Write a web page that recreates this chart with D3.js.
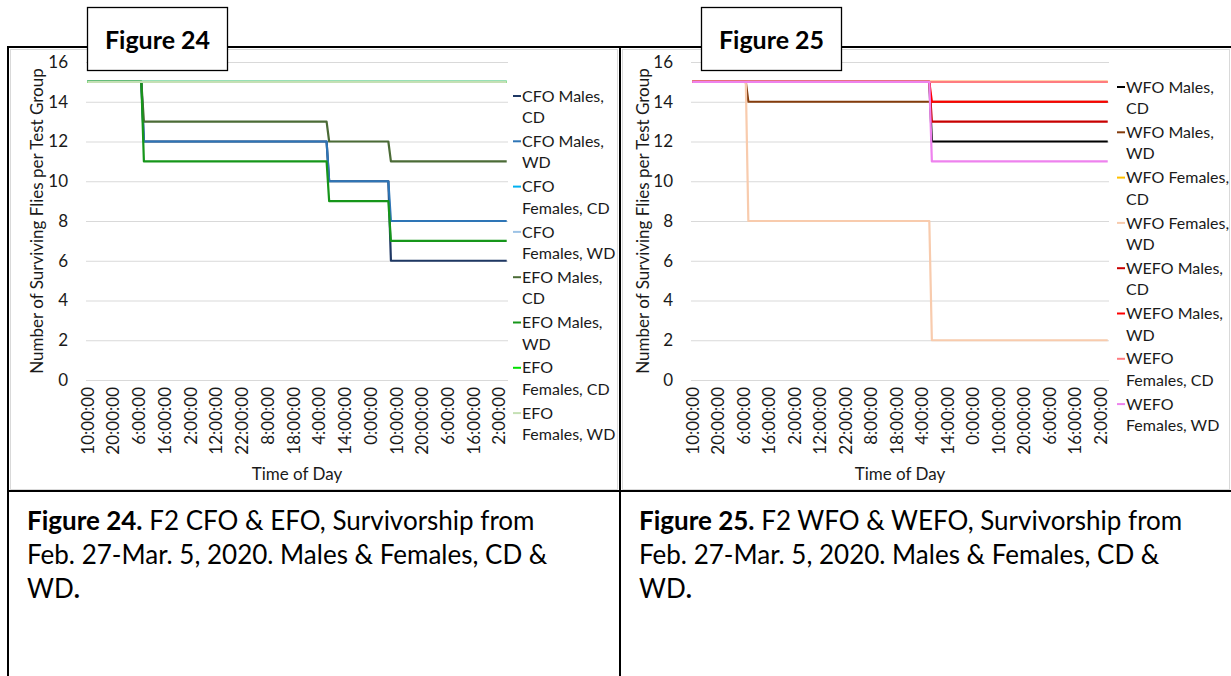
<!DOCTYPE html>
<html>
<head>
<meta charset="utf-8">
<script src="https://cdn.jsdelivr.net/npm/d3@7"></script>
<style>
  body { margin: 0; background: #fff; }
  svg { display: block; font-family: Lato, "Open Sans", sans-serif; }
</style>
</head>
<body>
<svg width="1231" height="676"></svg>
<script>
// x axis: hourly categories, a label every 10th hour
const hourCount = 164;
const labelHours = [0, 10, 20, 30, 40, 50, 60, 70, 80, 90, 100, 110, 120, 130, 140, 150, 160];
const timeLabels = ['10:00:00', '20:00:00', '6:00:00', '16:00:00', '2:00:00', '12:00:00', '22:00:00', '8:00:00',
  '18:00:00', '4:00:00', '14:00:00', '0:00:00', '10:00:00', '20:00:00', '6:00:00', '16:00:00', '2:00:00'];
const yTicks = [0, 2, 4, 6, 8, 10, 12, 14, 16];

// hour index of each survival check
const checkHours = [0, 22, 94, 118];

// Figure 24 — surviving flies at each check
const fig24Names = ['CFO Males,\nCD', 'CFO Males,\nWD', 'CFO\nFemales, CD', 'CFO\nFemales, WD',
  'EFO Males,\nCD', 'EFO Males,\nWD', 'EFO\nFemales, CD', 'EFO\nFemales, WD'];
const fig24Colors = ['#1f3864', '#2e75b6', '#00b0f0', '#9dc3e6', '#4b6b36', '#16961a', '#00e000', '#c5e0b4'];
const cfoMalesCD = [15, 12, 10, 6];
const cfoMalesWD = [15, 12, 10, 8];
const cfoFemalesCD = [15, 15, 15, 15];
const cfoFemalesWD = [15, 15, 15, 15];
const efoMalesCD = [15, 13, 12, 11];
const efoMalesWD = [15, 11, 9, 7];
const efoFemalesCD = [15, 15, 15, 15];
const efoFemalesWD = [15, 15, 15, 15];

// Figure 25
const fig25Names = ['WFO Males,\nCD', 'WFO Males,\nWD', 'WFO Females,\nCD', 'WFO Females,\nWD',
  'WEFO Males,\nCD', 'WEFO Males,\nWD', 'WEFO\nFemales, CD', 'WEFO\nFemales, WD'];
const fig25Colors = ['#000000', '#843c0c', '#ffc000', '#f8cbad', '#c80000', '#ff0000', '#ff7c80', '#ee82ee'];
const wfoMalesCD = [15, 15, 12, 12];
const wfoMalesWD = [15, 14, 14, 14];
const wfoFemalesCD = [15, 15, 15, 15];
const wfoFemalesWD = [15, 8, 2, 2];
const wefoMalesCD = [15, 15, 13, 13];
const wefoMalesWD = [15, 15, 14, 14];
const wefoFemalesCD = [15, 15, 15, 15];
const wefoFemalesWD = [15, 15, 11, 11];

const svg = d3.select('svg');
const ink = '#1a1a1a';

// hourly line: value holds until the hour of the next check
const stepPoints = (vals) => {
  const pts = [[checkHours[0], vals[0]]];
  for (let i = 1; i < vals.length; i++) {
    pts.push([checkHours[i] - 1, vals[i - 1]], [checkHours[i], vals[i]]);
  }
  pts.push([hourCount - 1, vals[vals.length - 1]]);
  return pts;
};

const drawPanel = (cfg) => {
  const { left, right, top, bottom, series, names, colors } = cfg;
  const g = svg.append('g');

  // chart area border
  g.append('rect')
    .attr('x', cfg.boxX).attr('y', 49.5)
    .attr('width', cfg.boxW).attr('height', 440)
    .attr('fill', '#fff').attr('stroke', '#d9d9d9');

  const x = d3.scaleLinear().domain([-0.5, hourCount - 0.5]).range([left, right]);
  const y = d3.scaleLinear().domain([0, 16]).range([bottom, top]);

  // gridlines + y labels
  const yAxis = g.append('g')
    .attr('transform', `translate(${left},0)`)
    .call(d3.axisLeft(y).tickValues(yTicks).tickSize(-(right - left)).tickPadding(18));
  yAxis.select('.domain').remove();
  yAxis.selectAll('line').attr('stroke', '#d9d9d9');
  yAxis.selectAll('text').attr('font-size', 17).attr('fill', ink)
    .attr('font-family', 'Lato, sans-serif');

  // x labels, rotated
  const xAxis = g.append('g')
    .attr('transform', `translate(0,${bottom})`)
    .call(d3.axisBottom(x).tickValues(labelHours).tickSize(0)
      .tickFormat((d, i) => timeLabels[i]));
  xAxis.select('.domain').remove();
  xAxis.selectAll('text')
    .attr('transform', 'rotate(-90)')
    .attr('x', -7).attr('y', 0).attr('dy', '0.35em')
    .attr('text-anchor', 'end')
    .attr('font-size', 17).attr('fill', ink)
    .attr('font-family', 'Lato, sans-serif');

  const line = d3.line().x((d) => x(d[0])).y((d) => y(d[1]));
  g.append('g').selectAll('path')
    .data(series)
    .join('path')
    .attr('d', (d) => line(stepPoints(d)))
    .attr('fill', 'none')
    .attr('stroke', (d, i) => colors[i])
    .attr('stroke-width', 2.2)
    .attr('stroke-linejoin', 'round');

  // axis titles
  g.append('text')
    .attr('transform', `translate(${cfg.yTitleX},${(top + bottom) / 2}) rotate(-90)`)
    .attr('text-anchor', 'middle').attr('dy', '0.35em')
    .attr('font-size', 17).attr('fill', ink)
    .text('Number of Surviving Flies per Test Group');
  g.append('text')
    .attr('x', (left + right) / 2).attr('y', 474)
    .attr('text-anchor', 'middle').attr('dy', '0.35em')
    .attr('font-size', 17).attr('fill', ink)
    .text('Time of Day');

  // legend
  const leg = g.append('g').selectAll('g')
    .data(names)
    .join('g')
    .attr('transform', (d, i) => `translate(${cfg.legendX},${cfg.legendY + i * 45.3})`);
  leg.append('line')
    .attr('x1', 0).attr('x2', 8)
    .attr('stroke', (d, i) => colors[i]).attr('stroke-width', 2);
  leg.append('text')
    .attr('font-size', 16).attr('fill', ink)
    .selectAll('tspan')
    .data((d) => d.split('\n'))
    .join('tspan')
    .attr('x', 9).attr('y', (d, i) => i * 21.5).attr('dy', '0.35em')
    .text((d) => d);

  // caption below
  const cap = svg.append('g').attr('font-size', 26).attr('fill', '#000');
  const l1 = cap.append('text').attr('x', cfg.capX).attr('y', 521).attr('dy', '0.35em');
  l1.append('tspan').attr('font-weight', 700).text(cfg.figTitle + '.');
  l1.append('tspan').text(' ' + cfg.capLine1);
  cap.append('text').attr('x', cfg.capX).attr('y', 555).attr('dy', '0.35em')
    .text('Feb. 27-Mar. 5, 2020. Males & Females, CD &');
  const l3 = cap.append('text').attr('x', cfg.capX).attr('y', 589).attr('dy', '0.35em');
  l3.append('tspan').text('WD');
  l3.append('tspan').attr('font-weight', 700).text('.');
};

drawPanel({
  left: 86, right: 508, top: 62, bottom: 380,
  boxX: 10.5, boxW: 607,
  yTitleX: 37, legendX: 513, legendY: 96,
  series: [cfoMalesCD, cfoMalesWD, cfoFemalesCD, cfoFemalesWD, efoMalesCD, efoMalesWD, efoFemalesCD, efoFemalesWD],
  names: fig24Names, colors: fig24Colors,
  figTitle: 'Figure 24', capX: 27,
  capLine1: 'F2 CFO & EFO, Survivorship from',
});
drawPanel({
  left: 691, right: 1109, top: 62, bottom: 380,
  boxX: 622.5, boxW: 607,
  yTitleX: 643, legendX: 1117, legendY: 87,
  series: [wfoMalesCD, wfoMalesWD, wfoFemalesCD, wfoFemalesWD, wefoMalesCD, wefoMalesWD, wefoFemalesCD, wefoFemalesWD],
  names: fig25Names, colors: fig25Colors,
  figTitle: 'Figure 25', capX: 639,
  capLine1: 'F2 WFO & WEFO, Survivorship from',
});

// table frame
const frameLines = [[7, 47, 1231, 47], [8, 47, 8, 676], [620, 47, 620, 676], [7, 491, 1231, 491]];
svg.append('g').attr('stroke', '#000').attr('stroke-width', 2)
  .selectAll('line').data(frameLines).join('line')
  .attr('x1', (d) => d[0]).attr('y1', (d) => d[1])
  .attr('x2', (d) => d[2]).attr('y2', (d) => d[3]);

// "Figure NN" boxes over the frame
const figBoxes = [{ x: 87.5, title: 'Figure 24' }, { x: 701.5, title: 'Figure 25' }];
const fb = svg.append('g').selectAll('g').data(figBoxes).join('g');
fb.append('rect')
  .attr('x', (d) => d.x).attr('y', 7.5).attr('width', 140).attr('height', 63)
  .attr('fill', '#fff').attr('stroke', '#000').attr('stroke-width', 1.3);
fb.append('text')
  .attr('x', (d) => d.x + 70).attr('y', 40).attr('dy', '0.35em')
  .attr('text-anchor', 'middle').attr('font-size', 25).attr('font-weight', 700)
  .text((d) => d.title);
</script>
</body>
</html>
